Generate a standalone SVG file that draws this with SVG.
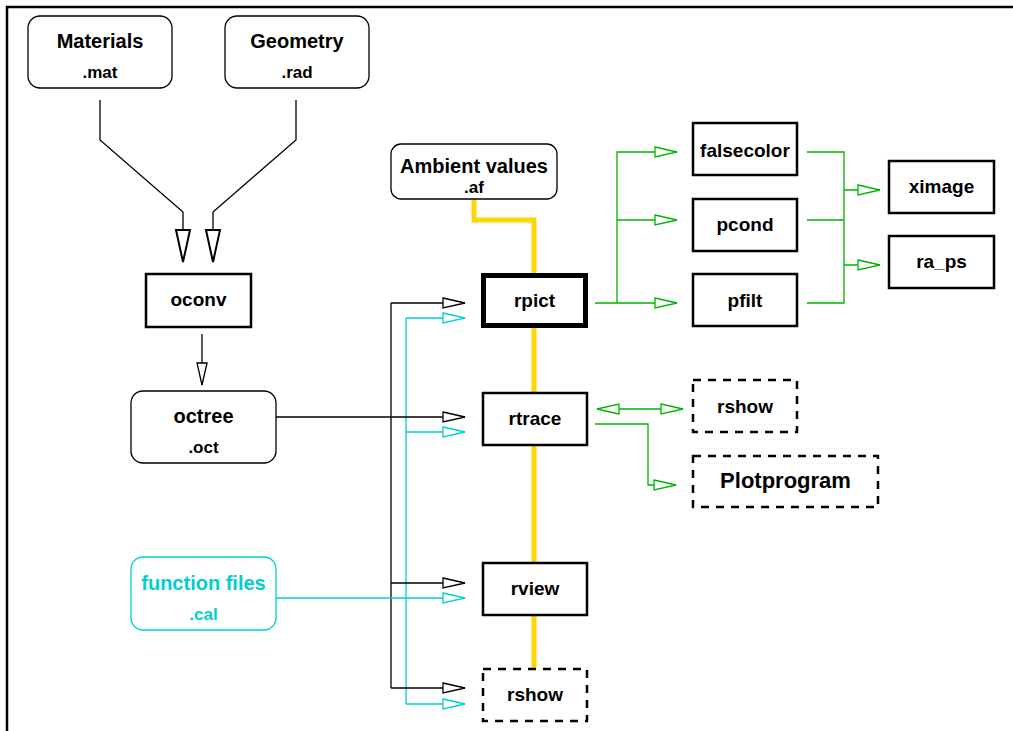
<svg xmlns="http://www.w3.org/2000/svg" width="1013" height="731" viewBox="0 0 1013 731">
<style>
text{font-family:"Liberation Sans",Arial,sans-serif;font-weight:bold;text-anchor:middle;fill:#000}
.t{font-size:19px}
.tl{font-size:20px}
.ts{font-size:17px}
.box{fill:#fff;stroke:#000;stroke-width:2.5}
.rbox{fill:#fff;stroke:#000;stroke-width:1.3}
.dash{fill:#fff;stroke:#000;stroke-width:2.5;stroke-dasharray:8 7}
.k{fill:none;stroke:#000;stroke-width:1.3}
.c{fill:none;stroke:#00CED1;stroke-width:1.3}
.g{fill:none;stroke:#00B400;stroke-width:1.3}
.y{fill:none;stroke:#FFD700;stroke-width:5}
.cy{fill:#00CED1}
</style>
<defs>
<marker id="ak" viewBox="0 0 24 12" refX="23" refY="6" markerWidth="24" markerHeight="12" markerUnits="userSpaceOnUse" orient="auto-start-reverse"><path d="M1,1 L23,6 L1,11 Z" fill="#fff" stroke="#000" stroke-width="1.3"/></marker>
<marker id="ac" viewBox="0 0 24 12" refX="23" refY="6" markerWidth="24" markerHeight="12" markerUnits="userSpaceOnUse" orient="auto-start-reverse"><path d="M1,1 L23,6 L1,11 Z" fill="#fff" stroke="#00CED1" stroke-width="1.3"/></marker>
<marker id="ag" viewBox="0 0 24 12" refX="23" refY="6" markerWidth="24" markerHeight="12" markerUnits="userSpaceOnUse" orient="auto-start-reverse"><path d="M1,1 L23,6 L1,11 Z" fill="#fff" stroke="#00B400" stroke-width="1.3"/></marker>
</defs>
<rect width="1013" height="731" fill="#fff"/>
<path d="M7,731 V7 H1013" fill="none" stroke="#000" stroke-width="2.5"/>

<g id="connectors">
<path class="y" d="M474,199 V220 H534 V273 M534,328 V393 M534,445 V563 M534,615 V669"/>
<path class="k" d="M100,100 V140 L183,212 V232"/>
<path class="k" d="M296,100 V140 L213,212 V232"/>
<polygon points="176,230 190,230 183,262" fill="#fff" stroke="#000" stroke-width="2"/>
<polygon points="206,230 220,230 213,262" fill="#fff" stroke="#000" stroke-width="2"/>
<path class="k" d="M202,334 V385" marker-end="url(#ak)"/>
<path class="k" d="M391,303 V688"/>
<path class="c" d="M406,318 V704"/>
<path class="k" d="M391,303 H465" marker-end="url(#ak)"/>
<path class="k" d="M276,417 H465" marker-end="url(#ak)"/>
<path class="k" d="M391,583 H465" marker-end="url(#ak)"/>
<path class="k" d="M391,688 H465" marker-end="url(#ak)"/>
<path class="c" d="M406,318 H465" marker-end="url(#ac)"/>
<path class="c" d="M406,432 H465" marker-end="url(#ac)"/>
<path class="c" d="M276,598 H465" marker-end="url(#ac)"/>
<path class="c" d="M406,704 H465" marker-end="url(#ac)"/>
<path class="g" d="M595,303 H677" marker-end="url(#ag)"/>
<path class="g" d="M617,303 V152 H677" marker-end="url(#ag)"/>
<path class="g" d="M617,220 H677" marker-end="url(#ag)"/>
<path class="g" d="M807,152 H844 V303 H807 M807,220 H844"/>
<path class="g" d="M844,190 H880" marker-end="url(#ag)"/>
<path class="g" d="M844,265 H880" marker-end="url(#ag)"/>
<path class="g" d="M597,409 H683" marker-start="url(#ag)" marker-end="url(#ag)"/>
<path class="g" d="M595,424 H648 V485 H676" marker-end="url(#ag)"/>
</g>

<g id="materials"><rect class="rbox" x="28" y="16" width="144" height="72" rx="12"/><text class="tl" x="100" y="48">Materials</text><text class="ts" x="100" y="78">.mat</text></g>
<g id="geometry"><rect class="rbox" x="225" y="16" width="144" height="72" rx="12"/><text class="tl" x="297" y="48">Geometry</text><text class="ts" x="297" y="78">.rad</text></g>
<g id="ambient"><rect class="rbox" x="391" y="144" width="166" height="55" rx="10"/><text class="tl" x="474" y="173">Ambient values</text><text class="ts" x="474" y="193">.af</text></g>
<g id="oconv"><rect class="box" x="146" y="274" width="105" height="53"/><text class="t" x="198.5" y="306">oconv</text></g>
<g id="octree"><rect class="rbox" x="131" y="391" width="145" height="72" rx="12"/><text class="tl" x="203.5" y="423">octree</text><text class="ts" x="203.5" y="453">.oct</text></g>
<g id="functionfiles"><rect class="rbox" x="131" y="557" width="145" height="73" rx="12" style="stroke:#00CED1"/><text class="tl cy" x="203.5" y="590">function files</text><text class="ts cy" x="203.5" y="620">.cal</text></g>
<g id="rpict"><rect x="483.5" y="275.5" width="102" height="50" fill="#fff" stroke="#000" stroke-width="5"/><text class="t" x="534.5" y="307">rpict</text></g>
<g id="rtrace"><rect class="box" x="483" y="393" width="104" height="52"/><text class="t" x="535" y="425">rtrace</text></g>
<g id="rview"><rect class="box" x="483" y="563" width="104" height="52"/><text class="t" x="535" y="595">rview</text></g>
<g id="rshow1"><rect class="dash" x="483" y="669" width="104" height="52"/><text class="t" x="535" y="701">rshow</text></g>
<g id="falsecolor"><rect class="box" x="693" y="123" width="104" height="52"/><text class="t" x="745" y="157">falsecolor</text></g>
<g id="pcond"><rect class="box" x="693" y="199" width="104" height="52"/><text class="t" x="745" y="231">pcond</text></g>
<g id="pfilt"><rect class="box" x="693" y="274" width="104" height="52"/><text class="t" x="745" y="307">pfilt</text></g>
<g id="ximage"><rect class="box" x="889" y="161" width="105" height="52"/><text class="t" x="941.5" y="193">ximage</text></g>
<g id="ra_ps"><rect class="box" x="889" y="236" width="105" height="52"/><text class="t" x="941.5" y="268">ra_ps</text></g>
<g id="rshow2"><rect class="dash" x="693" y="380" width="104" height="52"/><text class="t" x="745" y="413">rshow</text></g>
<g id="plotprogram"><rect class="dash" x="693" y="456" width="185" height="51"/><text x="785.5" y="488" style="font-size:22px">Plotprogram</text></g>
</svg>
